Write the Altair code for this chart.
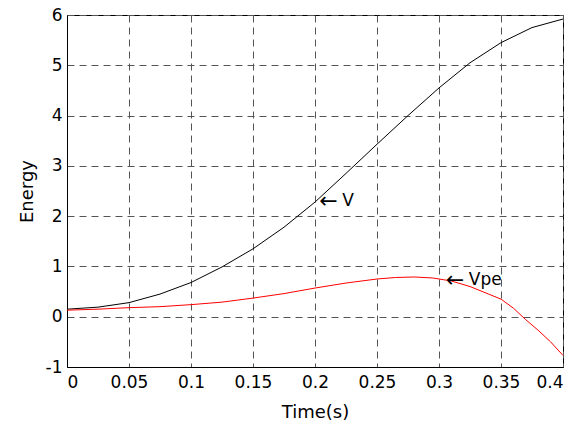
import altair as alt
import pandas as pd

# Series V (black)
t_v = [0, 0.025, 0.05, 0.075, 0.1, 0.125, 0.15, 0.175, 0.2, 0.225, 0.25,
       0.275, 0.3, 0.325, 0.35, 0.375, 0.4]
v = [0.15, 0.19, 0.28, 0.45, 0.68, 0.99, 1.35, 1.78, 2.28, 2.85, 3.43,
     4.0, 4.55, 5.05, 5.45, 5.75, 5.92]

# Series Vpe (red)
t_vpe = [0, 0.025, 0.05, 0.075, 0.1, 0.125, 0.15, 0.175, 0.2, 0.225, 0.25,
         0.265, 0.28, 0.295, 0.31, 0.325, 0.34, 0.35, 0.36, 0.37, 0.38, 0.39, 0.4]
vpe = [0.13, 0.15, 0.18, 0.2, 0.24, 0.29, 0.37, 0.46, 0.57, 0.67, 0.75,
       0.78, 0.79, 0.77, 0.71, 0.6, 0.45, 0.35, 0.17, -0.06, -0.27, -0.5, -0.77]

# Annotations
ann_t = [0.2035, 0.3055]
ann_y = [2.30, 0.73]
ann_text = ["V", "Vpe"]
ann_arrow = ["\u2190", "\u2190"]

x_ticks = [0, 0.05, 0.1, 0.15, 0.2, 0.25, 0.3, 0.35, 0.4]
y_ticks = [-1, 0, 1, 2, 3, 4, 5, 6]

df_v = pd.DataFrame({"t": t_v, "y": v})
df_vpe = pd.DataFrame({"t": t_vpe, "y": vpe})
df_ann = pd.DataFrame({"t": ann_t, "y": ann_y, "label": ann_text, "arrow": ann_arrow})

FONT = "DejaVu Sans"

x_enc = alt.X("t:Q",
              scale=alt.Scale(domain=[0, 0.4], nice=False, zero=False),
              axis=alt.Axis(values=x_ticks, format="~g", title="Time(s)",
                            titleY=50, titleBaseline="alphabetic",
                            labelPadding=7))
y_enc = alt.Y("y:Q",
              scale=alt.Scale(domain=[-1, 6], nice=False, zero=False),
              axis=alt.Axis(values=y_ticks, labelExpr="'' + datum.value", title="Energy",
                            titleX=-35, titleY=176, titleAngle=270,
                            titleAlign="center", titleBaseline="alphabetic",
                            labelPadding=5))

line_v = alt.Chart(df_v).mark_line(color="black", strokeWidth=1).encode(x=x_enc, y=y_enc)
line_vpe = alt.Chart(df_vpe).mark_line(color="#ff0000", strokeWidth=1).encode(x="t:Q", y="y:Q")
arrows = alt.Chart(df_ann).mark_text(align="left", baseline="middle", font=FONT,
                                     fontSize=22, color="black").encode(
    x="t:Q", y="y:Q", text="arrow:N")
labels = alt.Chart(df_ann).mark_text(align="left", baseline="middle", font=FONT,
                                     fontSize=17, color="black", dx=23).encode(
    x="t:Q", y="y:Q", text="label:N")

chart = alt.layer(line_v, line_vpe, arrows, labels).properties(
    width=496, height=352,
    autosize=alt.AutoSizeParams(type="none"),
    padding={"left": 59, "top": 7, "right": 15, "bottom": 56},
).configure_view(
    stroke="black", strokeWidth=1
).configure_axis(
    domainColor="black", domainWidth=1,
    ticks=False,
    grid=True, gridColor="#555555", gridDash=[7, 5], gridWidth=1, gridOpacity=1,
    labelFont=FONT, labelFontSize=17, labelColor="black",
    titleFont=FONT, titleFontSize=18, titleColor="black", titleFontWeight="normal",
)

chart.save("out.html", embed_options={"renderer": "svg", "actions": False})
